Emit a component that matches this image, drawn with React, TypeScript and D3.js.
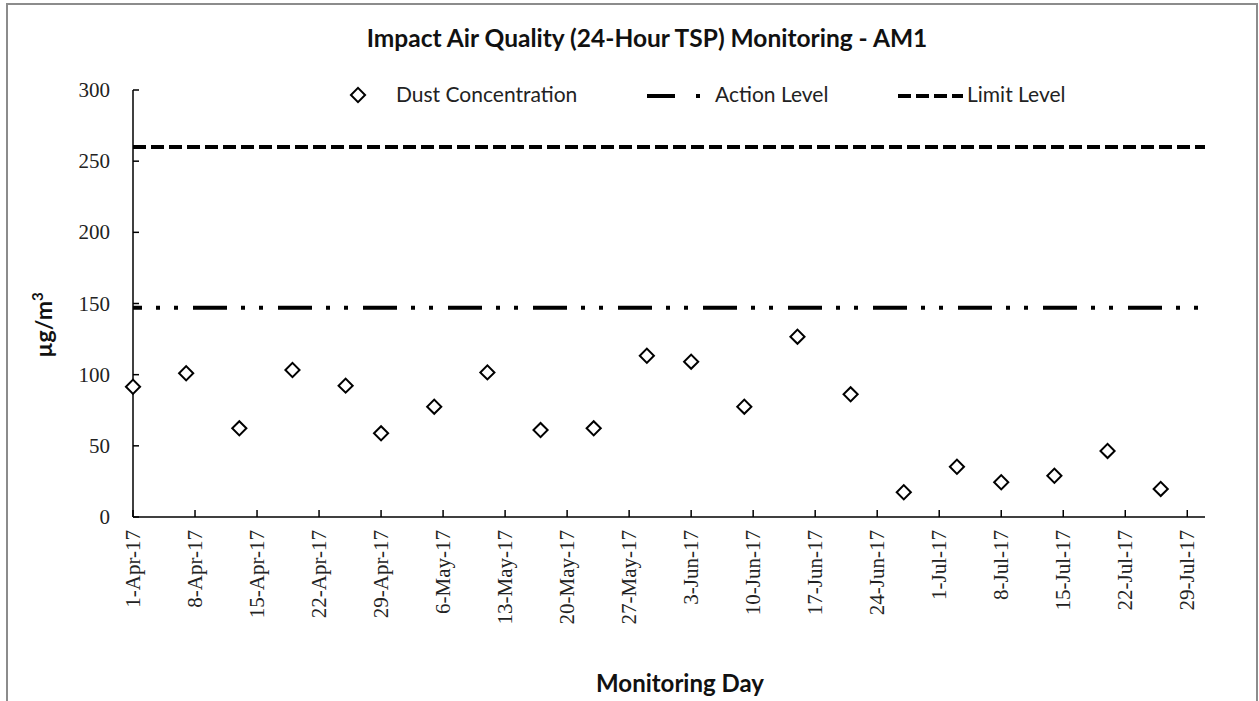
import React from "react";
import * as d3 from "d3";

const sampleDates: string[] = [
  "2017-04-01", "2017-04-07", "2017-04-13", "2017-04-19", "2017-04-25", "2017-04-29",
  "2017-05-05", "2017-05-11", "2017-05-17", "2017-05-23", "2017-05-29", "2017-06-03",
  "2017-06-09", "2017-06-15", "2017-06-21", "2017-06-27", "2017-07-03", "2017-07-08",
  "2017-07-14", "2017-07-20", "2017-07-26",
];
const dustValues: number[] = [
  91.5, 101, 62.3, 103.3, 92.3, 58.8, 77.5, 101.6, 61.1, 62.3, 113.3, 109.1,
  77.5, 126.7, 86.2, 17.4, 35.3, 24.4, 29.0, 46.4, 19.7,
];
const actionLevel = 147;
const limitLevel = 260;
const yTicks: number[] = [0, 50, 100, 150, 200, 250, 300];
const xDomain: string[] = ["2017-04-01", "2017-07-31"];
const tickStart = "2017-04-01";
const tickEnd = "2017-07-29";

const title = "Impact Air Quality (24-Hour TSP) Monitoring - AM1";
const xTitle = "Monitoring Day";
const legendLabels = ["Dust Concentration", "Action Level", "Limit Level"];

const W = 1259;
const H = 701;
const left = 133, right = 1205, top = 90, bottom = 517;

const serif = "'Liberation Serif', 'Times New Roman', serif";
const sans = "Lato, 'Open Sans', sans-serif";

const fmt = d3.utcFormat("%-d-%b-%y");

export default function App() {
  const x = d3.scaleUtc().domain(xDomain.map((d) => new Date(d + "T00:00:00Z"))).range([left, right]);
  const y = d3.scaleLinear().domain([0, 300]).range([bottom, top]);
  const xTickDates = d3.utcDay.range(
    new Date(tickStart + "T00:00:00Z"),
    d3.utcDay.offset(new Date(tickEnd + "T00:00:00Z"), 1),
    7
  );
  const diamond = d3.symbol(d3.symbolSquare, 100)();
  const data = sampleDates.map((d, i) => ({ date: new Date(d + "T00:00:00Z"), v: dustValues[i] }));
  const line = d3.line<[number, number]>();

  return (
    <svg width={W} height={H} style={{ position: "absolute", left: 0, top: 0, background: "#fff" }}>
      <rect x={7} y={4} width={1250} height={700} fill="#fff" stroke="#8c8c8c" strokeWidth={2} />
      <text x={647} y={47} textAnchor="middle" fontFamily={sans} fontWeight="bold" fontSize={24.5} fill="#111">
        {title}
      </text>

      {/* Legend */}
      <path d={diamond!} transform={`translate(358,95) rotate(45)`} fill="#fff" stroke="#000" strokeWidth={2} />
      <text x={396} y={102} fontFamily={sans} fontSize={21} fill="#222">{legendLabels[0]}</text>
      <path d={line([[647, 96], [703, 96]])!} stroke="#000" strokeWidth={4} strokeDasharray="28 21 4 100" fill="none" />
      <text x={715} y={102} fontFamily={sans} fontSize={21} fill="#222">{legendLabels[1]}</text>
      <path d={line([[898, 96], [963, 96]])!} stroke="#000" strokeWidth={4} strokeDasharray="13 5" fill="none" />
      <text x={967} y={102} fontFamily={sans} fontSize={21} fill="#222">{legendLabels[2]}</text>

      {/* Reference lines */}
      <path
        d={line([[left, y(limitLevel)], [right, y(limitLevel)]])!}
        stroke="#000" strokeWidth={4} strokeDasharray="13 5" fill="none"
      />
      <path
        d={line([[left, y(actionLevel)], [right, y(actionLevel)]])!}
        stroke="#000" strokeWidth={4} strokeDasharray="34 14 4 14 4 15" strokeDashoffset={25} fill="none"
      />

      {/* Axes */}
      <line x1={left} x2={left} y1={top} y2={bottom} stroke="#000" strokeWidth={1.5} />
      <line x1={left} x2={right} y1={bottom} y2={bottom} stroke="#000" strokeWidth={1.5} />
      {yTicks.map((t) => (
        <g key={t}>
          <line x1={left} x2={left + 6} y1={y(t)} y2={y(t)} stroke="#000" strokeWidth={1.5} />
          <text x={110} y={y(t) + 7} textAnchor="end" fontFamily={serif} fontSize={21} fill="#222">{t}</text>
        </g>
      ))}
      {xTickDates.map((d) => (
        <g key={d.toISOString()}>
          <line x1={x(d)} x2={x(d)} y1={bottom} y2={bottom - 7} stroke="#000" strokeWidth={1.5} />
          <text
            transform={`translate(${x(d) + 7},530) rotate(-90)`}
            textAnchor="end" fontFamily={serif} fontSize={21} fill="#222"
          >
            {fmt(d)}
          </text>
        </g>
      ))}

      <text transform="translate(52,325) rotate(-90)" textAnchor="middle" fontFamily={sans} fontWeight="bold" fontSize={23} fill="#111">
        µg/m<tspan dy={-9} fontSize={15}>3</tspan>
      </text>
      <text x={680} y={692} textAnchor="middle" fontFamily={sans} fontWeight="bold" fontSize={24} fill="#111">{xTitle}</text>

      {/* Data points */}
      {data.map((p, i) => (
        <path key={i} d={diamond!} transform={`translate(${x(p.date)},${y(p.v)}) rotate(45)`} fill="#fff" stroke="#000" strokeWidth={2} />
      ))}
    </svg>
  );
}
